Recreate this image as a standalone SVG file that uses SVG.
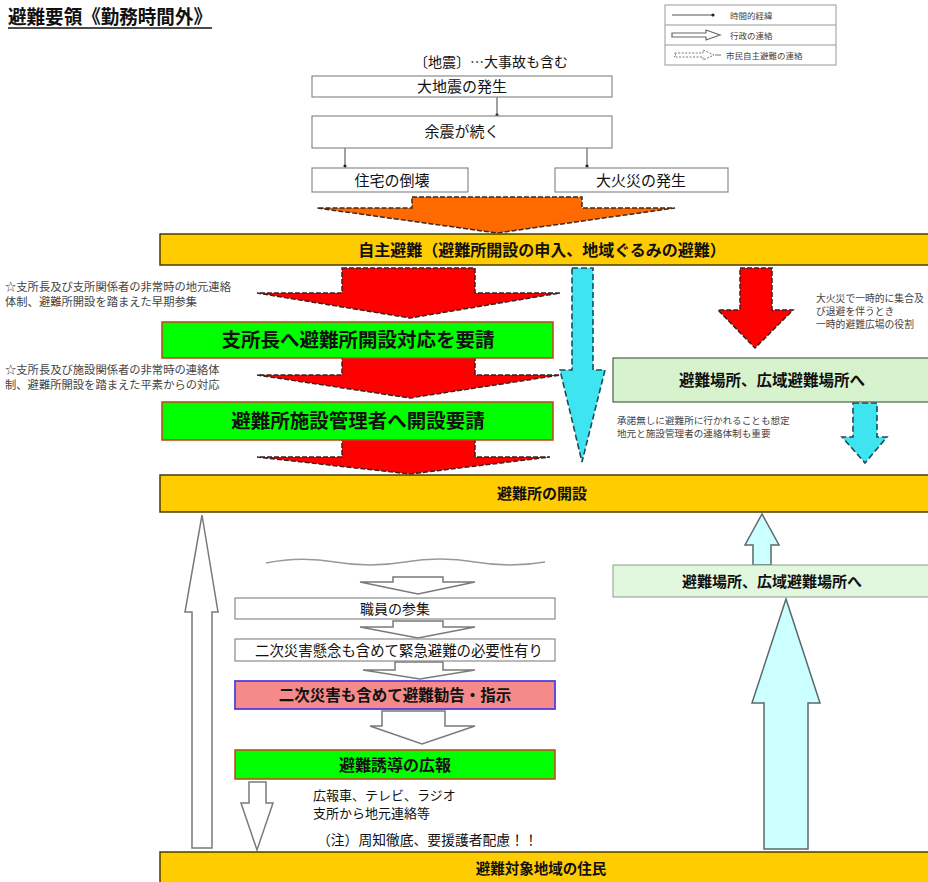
<svg xmlns="http://www.w3.org/2000/svg" width="928" height="882" viewBox="0 0 928 882">
<style>
.t{font-family:"Noto Sans CJK JP","Noto Sans CJK SC",sans-serif;fill:#111}
.b{font-weight:bold}
.note{font-family:"Noto Sans CJK JP",sans-serif;fill:#444}
.box{fill:#fff;stroke:#8a8a8a;stroke-width:1.2}
.yel{fill:#FFCC00;stroke:#4a3c00;stroke-width:1.5}
.grn{fill:#00FF00;stroke:#C8401A;stroke-width:1.5}
.lg{fill:#D6F3CE;stroke:#4d5f4d;stroke-width:1.2}
.lg2{fill:#E2F8DE;stroke:#8a9a8a;stroke-width:1}
.pink{fill:#F48A8A;stroke:#5040E0;stroke-width:1.8}
.red{fill:#FF0000;stroke:#3a2222;stroke-width:1.5;stroke-dasharray:5 2}
.org{fill:#FF6A00;stroke:#3a2a22;stroke-width:1.5;stroke-dasharray:5 2}
.cy{fill:#3EE4F0;stroke:#1d4a58;stroke-width:1.6;stroke-dasharray:6 3}
.hol{fill:#fff;stroke:#7a7a7a;stroke-width:1.5}
.lcy{fill:#CCFFFF;stroke:#5a6a6a;stroke-width:1.5}
.ln{stroke:#444;stroke-width:1;fill:none}
</style>

<g id="title">
<text class="t b" x="8" y="24" font-size="19" textLength="204" lengthAdjust="spacingAndGlyphs">避難要領《勤務時間外》</text>
<line x1="8" y1="28" x2="212" y2="28" stroke="#111" stroke-width="1.5"/>
</g>

<g id="legend">
<rect x="665" y="5" width="171" height="60" fill="#fff" stroke="#999" stroke-width="1"/>
<line x1="665" y1="25" x2="836" y2="25" stroke="#999"/>
<line x1="665" y1="45" x2="836" y2="45" stroke="#999"/>
<line x1="672" y1="15" x2="713" y2="15" stroke="#555" stroke-width="1"/>
<circle cx="713" cy="15" r="1.6" fill="#222"/>
<text class="note" x="730" y="18.5" font-size="8.5">時間的経緯</text>
<polygon points="672,33 706,33 706,30 720,35 706,40 706,37 672,37" fill="#fff" stroke="#666" stroke-width="1.2"/>
<text class="note" x="730" y="38.5" font-size="8.5">行政の連絡</text>
<polygon points="676,55 674,53 703,53 703,50 714,55 703,60 703,57 674,57" fill="#fff" stroke="#777" stroke-width="1" stroke-dasharray="2 1.5"/>
<line x1="715" y1="55" x2="721" y2="55" stroke="#777" stroke-width="1"/>
<text class="note" x="726" y="58.5" font-size="8.5">市民自主避難の連絡</text>
</g>

<g id="connectors">
<line class="ln" x1="497" y1="97" x2="497" y2="115"/>
<circle cx="497" cy="115" r="1.6" fill="#222"/>
<line class="ln" x1="345" y1="148" x2="345" y2="166"/>
<circle cx="345" cy="166" r="1.6" fill="#222"/>
<line class="ln" x1="587" y1="148" x2="587" y2="166"/>
<circle cx="587" cy="166" r="1.6" fill="#222"/>
<polygon class="org" points="412,197 582,197 582,208 675,208 497,233 317,208 412,208"/>
<polygon class="red" points="342,268 475,268 475,293 560,293 410,318 257,293 342,293"/>
<polygon class="red" points="342,356 475,356 475,375 560,375 410,398 257,375 342,375"/>
<polygon class="red" points="342,438 475,438 475,457 550,457 410,474 257,457 342,457"/>
<polygon class="red" points="740,268 772,268 772,310 793,310 755,348 718,310 740,310"/>
<polygon class="cy" points="572,268 593,268 593,370 605,370 582,462 560,370 572,370"/>
<polygon class="cy" points="853,403 877,403 877,437 887,437 865,463 842,437 853,437"/>
<polygon class="hol" points="192,848 212,848 212,612 218,612 202,515 185,612 192,612"/>
<polygon class="lcy" points="753,565 771,565 771,545 779,545 762,514 745,545 753,545"/>
<polygon class="lcy" points="764,849 808,849 808,703 820,703 786,599 752,703 764,703"/>
<path d="M266,563 Q300,556 335,562 T405,562 T475,562 T545,562" fill="none" stroke="#999" stroke-width="1.3"/>
<polygon class="hol" points="393,577 443,577 443,582 475,582 418,594 360,582 393,582"/>
<polygon class="hol" points="393,621 443,621 443,627 475,627 418,638 360,627 393,627"/>
<polygon class="hol" points="395,662 443,662 443,670 475,670 420,679 363,670 395,670"/>
<polygon class="hol" points="382,711 445,711 445,726 475,726 422,744 370,726 382,726"/>
<polygon class="hol" points="249,782 266,782 266,803 273,803 257,850 241,803 249,803"/>
</g>

<g id="heading">
<text class="t" x="491" y="67" font-size="14" text-anchor="middle">〔地震〕…大事故も含む</text>
</g>
<g id="n1"><rect class="box" x="312" y="76" width="300" height="21"/><text class="t" x="462" y="92" font-size="15" text-anchor="middle">大地震の発生</text></g>
<g id="n2"><rect class="box" x="312" y="116" width="300" height="32"/><text class="t" x="462" y="137" font-size="15" text-anchor="middle">余震が続く</text></g>
<g id="n3"><rect class="box" x="312" y="168" width="156" height="24"/><text class="t" x="392" y="186" font-size="15" text-anchor="middle">住宅の倒壊</text></g>
<g id="n4"><rect class="box" x="555" y="168" width="173" height="24"/><text class="t" x="641" y="186" font-size="15" text-anchor="middle">大火災の発生</text></g>

<g id="n5"><rect class="yel" x="160" y="234" width="780" height="31"/><text class="t b" x="542" y="256" font-size="16" text-anchor="middle">自主避難（避難所開設の申入、地域ぐるみの避難）</text></g>

<g id="note1">
<text class="note" x="5" y="291" font-size="11.3">☆支所長及び支所関係者の非常時の地元連絡</text>
<text class="note" x="5" y="306" font-size="11.3">体制、避難所開設を踏まえた早期参集</text>
</g>
<g id="note2">
<text class="note" x="5" y="374" font-size="11.3">☆支所長及び施設関係者の非常時の連絡体</text>
<text class="note" x="5" y="389" font-size="11.3">制、避難所開設を踏まえた平素からの対応</text>
</g>
<g id="note3">
<text class="note" x="816" y="302" font-size="9.8">大火災で一時的に集合及</text>
<text class="note" x="816" y="315" font-size="9.8">び退避を伴うとき</text>
<text class="note" x="816" y="328" font-size="9.8">一時的避難広場の役割</text>
</g>
<g id="note4">
<text class="note" x="617" y="424" font-size="9.6">承諾無しに避難所に行かれることも想定</text>
<text class="note" x="617" y="437" font-size="9.6">地元と施設管理者の連絡体制も重要</text>
</g>

<g id="n6"><rect class="grn" x="162" y="322" width="391" height="36"/><text class="t b" x="358" y="347" font-size="19.5" text-anchor="middle" fill="#0a1a0a">支所長へ避難所開設対応を要請</text></g>
<g id="n7"><rect class="grn" x="162" y="402" width="391" height="38"/><text class="t b" x="358" y="428" font-size="19.5" text-anchor="middle">避難所施設管理者へ開設要請</text></g>
<g id="n8"><rect class="lg" x="613" y="358" width="320" height="44"/><text class="t b" x="772" y="386" font-size="15.5" text-anchor="middle">避難場所、広域避難場所へ</text></g>

<g id="n9"><rect class="yel" x="160" y="475" width="780" height="37"/><text class="t b" x="542" y="499" font-size="15" text-anchor="middle">避難所の開設</text></g>

<g id="n10"><rect class="lg2" x="613" y="565" width="320" height="32"/><text class="t b" x="772" y="587" font-size="15" text-anchor="middle">避難場所、広域避難場所へ</text></g>

<g id="n11"><rect class="box" x="235" y="598" width="320" height="21"/><text class="t" x="395" y="614" font-size="14" text-anchor="middle">職員の参集</text></g>
<g id="n12"><rect class="box" x="235" y="639" width="320" height="22"/><text class="t" x="399" y="656" font-size="14.4" text-anchor="middle">二次災害懸念も含めて緊急避難の必要性有り</text></g>
<g id="n13"><rect class="pink" x="235" y="681" width="320" height="28"/><text class="t b" x="395" y="701" font-size="15.5" text-anchor="middle">二次災害も含めて避難勧告・指示</text></g>
<g id="n14"><rect class="grn" x="235" y="750" width="320" height="29"/><text class="t b" x="395" y="771" font-size="16" text-anchor="middle">避難誘導の広報</text></g>

<g id="note5">
<text class="t" x="313" y="800" font-size="13">広報車、テレビ、ラジオ</text>
<text class="t" x="313" y="818" font-size="13">支所から地元連絡等</text>
<text class="t" x="317" y="845" font-size="13.8">（注）周知徹底、要援護者配慮！！</text>
</g>

<g id="n15"><rect class="yel" x="160" y="852" width="780" height="40"/><text class="t b" x="541" y="874" font-size="14.5" text-anchor="middle">避難対象地域の住民</text></g>
</svg>
